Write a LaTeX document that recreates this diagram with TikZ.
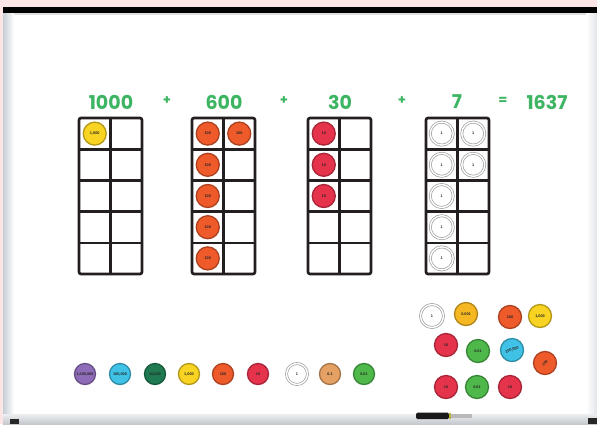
\documentclass[tikz,border=0pt]{standalone}
\usepackage{fontspec}
\newfontfamily\sumfont{Poppins}
\newfontfamily\diskfont{Liberation Sans}
\definecolor{wallpink}{HTML}{FBE5E5}
\definecolor{sumgreen}{HTML}{3DB562}
\definecolor{frameblk}{HTML}{231F20}
\definecolor{cmil}{HTML}{8E6CB8}
\definecolor{chtho}{HTML}{3FC2E5}
\definecolor{ctentho}{HTML}{1F7A52}
\definecolor{ctho}{HTML}{F8D321}
\definecolor{chun}{HTML}{EF5A2B}
\definecolor{cten}{HTML}{E6334C}
\definecolor{cone}{HTML}{FFFFFF}
\definecolor{ctenth}{HTML}{E4A163}
\definecolor{chunth}{HTML}{4EB84B}
\definecolor{cthoth}{HTML}{F6B822}

\begin{document}
\begin{tikzpicture}[x=1pt, y=-1pt,
        tenframe/.style={line width=2.6pt, draw=frameblk, rounded corners=2pt},
        gridline/.style={line width=2.6pt, draw=frameblk},
        disk/.style={circle, inner sep=0pt, minimum size=23pt, line width=1.3pt,
            fill=#1, draw=#1!72!black, text=black!85,
            font=\diskfont\bfseries\fontsize{3.8}{4}\selectfont},
        onedisk/.style={disk=cone, draw=gray!75, double=white, double distance=1.4pt, line width=0.7pt},
        smalldisk/.style={disk=#1, minimum size=21pt},
        sumtext/.style={text=sumgreen, inner sep=0pt,
            font=\sumfont\bfseries\fontsize{19}{19}\selectfont},
        optext/.style={text=sumgreen, inner sep=0pt,
            font=\sumfont\bfseries\fontsize{13}{13}\selectfont}]
    \useasboundingbox (0,0) rectangle (597,424);
    \fill[wallpink] (0,0) rectangle (597,424);

    % --- whiteboard ---
    \fill[white] (3,12) rectangle (597,417);
    \fill[black] (3,7) rectangle (597,13);
    \fill[gray!25] (3,13) rectangle (597,14.5);
    \shade[left color={rgb,255:red,198;green,206;blue,214}, right color=white] (3,13) rectangle (14,417);
    \shade[left color=white, right color={rgb,255:red,225;green,229;blue,233}] (586,13) rectangle (597,417);
    \shade[top color={rgb,255:red,236;green,238;blue,240}, bottom color={rgb,255:red,196;green,200;blue,205}] (3,414) rectangle (597,424);
    \fill[black!85] (10,419) rectangle (19,424);
    \fill[black!85] (588,418) rectangle (597,424);
    % marker on the tray
    \fill[black!90, rounded corners=1.5pt] (416,412.5) rectangle (449,419);
    \fill[yellow!70!black] (449,413) rectangle (451,418.5);
    \fill[gray!55] (451,414) rectangle (472,418);

    % --- the sum ---
    \node[sumtext] (thou)  at (111,102) {1000};
    \node[optext]  (plusa) at (167,101) {+};
    \node[sumtext] (hund)  at (224,102) {600};
    \node[optext]  (plusb) at (284,101) {+};
    \node[sumtext] (tens)  at (340,102) {30};
    \node[optext]  (plusc) at (402,101) {+};
    \node[sumtext] (ones)  at (457,102) {7};
    \node[optext]  (eq)    at (503,101) {=};
    \node[sumtext] (total) at (547,102) {1637};

    % --- ten frames ---
    \foreach \fx in {79,192,308,426} {
        \draw[tenframe] (\fx,118) rectangle ++(63,156);
        \draw[gridline] (\fx+31.5,118) -- ++(0,156);
        \foreach \r in {1,...,4} { \draw[gridline] (\fx,118+\r*31.2) -- ++(63,0); }
    }

    % --- counters in the frames ---
    \node[disk=ctho] (thoa) at (94.75,133.6) {1,000};
    \node[disk=chun] (huna) at (207.75,133.6) {100};
    \node[disk=chun] (hunb) at (239.25,133.6) {100};
    \foreach \r/\n in {1/c,2/d,3/e,4/f} {
        \node[disk=chun] (hun\n) at (207.75,133.6+\r*31.2) {100};
    }
    \foreach \r/\n in {0/a,1/b,2/c} {
        \node[disk=cten] (ten\n) at (323.75,133.6+\r*31.2) {10};
    }
    \node[onedisk] (onea) at (441.75,133.6) {1};
    \node[onedisk] (oneb) at (473.25,133.6) {1};
    \node[onedisk] (onec) at (441.75,164.8) {1};
    \node[onedisk] (oned) at (473.25,164.8) {1};
    \foreach \r/\n in {2/e,3/f,4/g} {
        \node[onedisk] (one\n) at (441.75,133.6+\r*31.2) {1};
    }

    % --- row of place value counters ---
    \foreach \x/\c/\t/\n in {85/cmil/{1,000,000}/ra, 120/chtho/{100,000}/rb,
            155/ctentho/{10,000}/rc, 189/ctho/{1,000}/rd, 223/chun/100/re,
            258/cten/10/rf, 330/ctenth/0.1/rh, 364/chunth/0.01/ri} {
        \node[smalldisk=\c] (\n) at (\x,374) {\t};
    }
    \node[onedisk, minimum size=21pt] (rg) at (297,374) {1};

    % --- loose counters ---
    \node[onedisk]     (la) at (432,316) {1};
    \node[disk=cthoth] (lb) at (466,314) {0.001};
    \node[disk=chun]   (lc) at (510,317) {100};
    \node[disk=ctho]   (ld) at (540,316) {1,000};
    \node[disk=cten]   (le) at (446,345) {10};
    \node[disk=chunth] (lf) at (478,351) {0.01};
    \node[disk=chtho, rotate=20] (lg) at (512,350) {100,000};
    \node[disk=chun, rotate=45]  (lh) at (545,363) {100};
    \node[disk=cten]   (li) at (446,387) {10};
    \node[disk=chunth] (lj) at (477,387) {0.01};
    \node[disk=cten]   (lk) at (510,387) {10};
\end{tikzpicture}
\end{document}
